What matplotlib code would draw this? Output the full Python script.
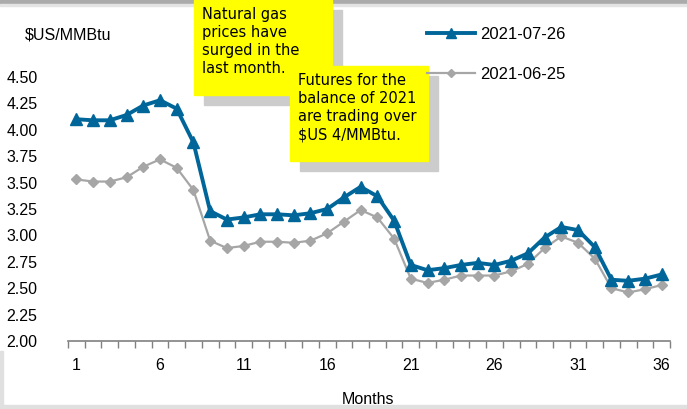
import matplotlib
matplotlib.use("Agg")
import matplotlib.pyplot as plt
from matplotlib.patches import Rectangle
import numpy as np

plt.rcParams['font.family'] = ['Liberation Sans', 'DejaVu Sans']

# data
months = list(range(1, 37))
jul26 = [4.10, 4.09, 4.09, 4.14, 4.23, 4.28, 4.20, 3.88, 3.23, 3.15,
         3.17, 3.20, 3.20, 3.19, 3.21, 3.25, 3.36, 3.46, 3.37, 3.14,
         2.72, 2.67, 2.69, 2.72, 2.74, 2.72, 2.76, 2.83, 2.98, 3.08,
         3.05, 2.89, 2.58, 2.57, 2.59, 2.63]
jun25 = [3.53, 3.51, 3.51, 3.55, 3.65, 3.72, 3.64, 3.43, 2.95, 2.88,
         2.90, 2.94, 2.94, 2.93, 2.95, 3.02, 3.13, 3.24, 3.17, 2.97,
         2.59, 2.55, 2.58, 2.62, 2.62, 2.62, 2.66, 2.73, 2.88, 2.99,
         2.93, 2.78, 2.50, 2.46, 2.49, 2.53]
xlabels = [1, 6, 11, 16, 21, 26, 31, 36]
yticks = [2.00, 2.25, 2.50, 2.75, 3.00, 3.25, 3.50, 3.75, 4.00, 4.25, 4.50]

W, H = 687, 409
fig = plt.figure(figsize=(W / 100, H / 100), dpi=100)

# frame bands
fig.patches.append(Rectangle((0, 1 - 4 / H), 1, 4 / H, transform=fig.transFigure,
                             color='#ababab', zorder=0))
fig.patches.append(Rectangle((0, 1 - 6 / H), 1, 2 / H, transform=fig.transFigure,
                             color='#e4e4e4', zorder=0))
fig.patches.append(Rectangle((0, 0), 1, 4 / H, transform=fig.transFigure,
                             color='#e0e0e0', zorder=0))
fig.patches.append(Rectangle((0, 0), 3 / W, 58 / H, transform=fig.transFigure,
                             color='#e0e0e0', zorder=0))

ax = fig.add_axes([68 / W, (H - 341) / H, (670 - 68) / W, (341 - 77) / H])
ax.plot(months, jun25, color='#a6a6a6', lw=1.6, marker='D', ms=5.5,
        mec='#a6a6a6', mfc='#a6a6a6', label='2021-06-25', zorder=2)
ax.plot(months, jul26, color='#006699', lw=2.8, marker='^', ms=8.5,
        mec='#006699', mfc='#006699', label='2021-07-26', zorder=3)

ax.set_xlim(0.5, 36.5)
ax.set_ylim(2.0, 4.5)
ax.set_yticks(yticks)
ax.set_yticklabels([f"{v:.2f}" for v in yticks], fontsize=11.5)
ax.set_xticks(xlabels)
ax.set_xticklabels([str(v) for v in xlabels], fontsize=11.5)
ax.set_xticks(np.arange(0.5, 37, 1), minor=True)
ax.tick_params(axis='x', which='major', length=0, pad=12)
ax.tick_params(axis='x', which='minor', length=5, color='#808080', width=1)
ax.tick_params(axis='y', length=0, pad=22)
for s in ['top', 'right', 'left']:
    ax.spines[s].set_visible(False)
ax.spines['bottom'].set_color('#808080')
ax.spines['bottom'].set_linewidth(1.2)

fig.text(25 / W, 1 - 35 / H, '$US/MMBtu', fontsize=11.5, va='center', ha='left')
fig.text(368 / W, 1 - 399 / H, 'Months', fontsize=11.5, va='center', ha='center')

# legend, newest first
handles, labels = ax.get_legend_handles_labels()
leg = fig.legend(handles[::-1], labels[::-1], loc='upper left',
                 bbox_to_anchor=(412 / W, 1 - 12 / H), frameon=False,
                 fontsize=12, handlelength=2.9, labelspacing=1.5,
                 handletextpad=0.3, markerscale=0.8)

# annotation boxes with shadow
def note(x0, y0, w, h, text):
    fig.patches.append(Rectangle(((x0 + 10) / W, 1 - (y0 + 10 + h) / H),
                                 w / W, h / H, transform=fig.transFigure,
                                 color='#cccccc', zorder=4))
    fig.patches.append(Rectangle((x0 / W, 1 - (y0 + h) / H), w / W, h / H,
                                 transform=fig.transFigure, color='#ffff00', zorder=5))
    fig.text((x0 + 8) / W, 1 - (y0 + 7) / H, text, fontsize=10.5, va='top',
             ha='left', linespacing=1.25, zorder=6, family='DejaVu Sans')

note(194, 0, 138, 95, 'Natural gas\nprices have\nsurged in the\nlast month.')
note(290, 66, 138, 95, 'Futures for the\nbalance of 2021\nare trading over\n$US 4/MMBtu.')

fig.savefig('out.png', dpi=100)
